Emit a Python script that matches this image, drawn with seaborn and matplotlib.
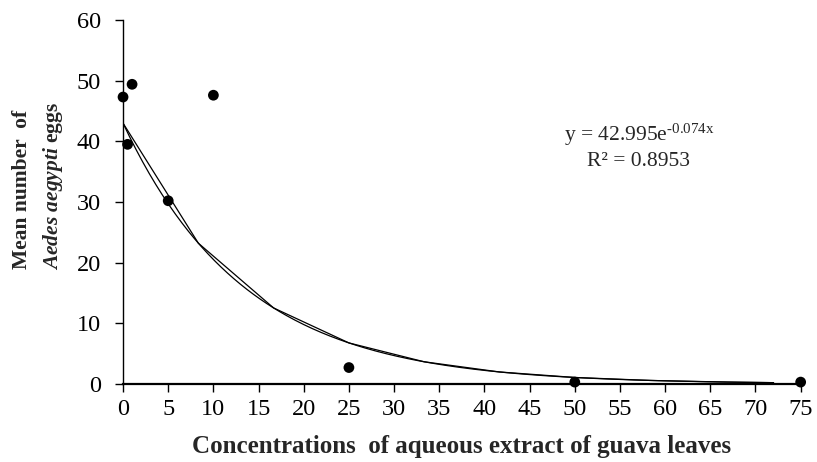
import matplotlib
matplotlib.use("Agg")
import matplotlib.pyplot as plt
import seaborn as sns
import numpy as np
import pandas as pd

sns.set_theme(style="ticks")
plt.rcParams["font.family"] = ["Liberation Serif", "DejaVu Serif"]
plt.rcParams["mathtext.fontset"] = "custom"
plt.rcParams["mathtext.rm"] = "Liberation Serif"
plt.rcParams["mathtext.it"] = "Liberation Serif:italic"
plt.rcParams["mathtext.bf"] = "Liberation Serif:bold"
plt.rcParams["mathtext.bfit"] = "Liberation Serif:bold:italic"

# observed means
concentration = [0, 0.5, 1, 5, 10, 25, 50, 75]
mean_eggs = [47.3, 39.5, 49.4, 30.2, 47.6, 2.7, 0.3, 0.3]

# exponential trendline y = a*e^(b*x), coefficients from the chart
coef_a = 42.995
coef_b = -0.074
trend_end = 72

df = pd.DataFrame({"conc": concentration, "eggs": mean_eggs})

fig = plt.figure(figsize=(8.17, 4.62), dpi=100)
ax = fig.add_axes([0.1506, 0.169, 0.8294, 0.7877])

# smooth trendline
xs = np.linspace(0, trend_end, 300)
ax.plot(xs, coef_a * np.exp(coef_b * xs), color="black", lw=0.9)
# coarse segmented version of the same fit
xc = np.append(np.arange(0, trend_end, 75 / 9), trend_end)
ax.plot(xc, coef_a * np.exp(coef_b * xc), color="black", lw=0.9)

sns.scatterplot(data=df, x="conc", y="eggs", ax=ax, color="black", s=60,
                edgecolor="none", clip_on=False, zorder=5)

ax.set_xlim(0, 75)
ax.set_ylim(0, 60)
ax.set_xticks(np.arange(0, 76, 5))
ax.set_yticks(np.arange(0, 61, 10))
sns.despine(ax=ax)
for s in ["left", "bottom"]:
    ax.spines[s].set_color("black")
ax.spines["left"].set_linewidth(1.0)
ax.spines["bottom"].set_linewidth(1.6)
ax.tick_params(axis="both", direction="out", length=6, width=1.0,
               colors="black", labelsize=17.5)
ax.tick_params(axis="y", pad=10)
ax.tick_params(axis="x", pad=5)
ax.set_xlabel("")
ax.set_ylabel("")

fig.text(0.5655, 1 - 446 / 462, "Concentrations  of aqueous extract of guava leaves",
         fontsize=18, fontweight="bold", ha="center", va="center")
fig.text(22 / 817, 1 - 189 / 462, "Mean number  of", rotation=90,
         fontsize=15.5, fontweight="bold", ha="center", va="center")
fig.text(53 / 817, 1 - 186 / 462, "$\\mathbfit{Aedes\\ aegypti}$$\\mathbf{\\ eggs}$",
         rotation=90, fontsize=15.5, ha="center", va="center")

ax.text(57.1, 41.0, "y = 42.995e$^{\\text{-0.074x}}$", ha="center", va="center",
        fontsize=15.5)
ax.text(57.1, 36.7, "R² = 0.8953", ha="center", va="center", fontsize=15.5)

fig.savefig("out.png", dpi=100)
